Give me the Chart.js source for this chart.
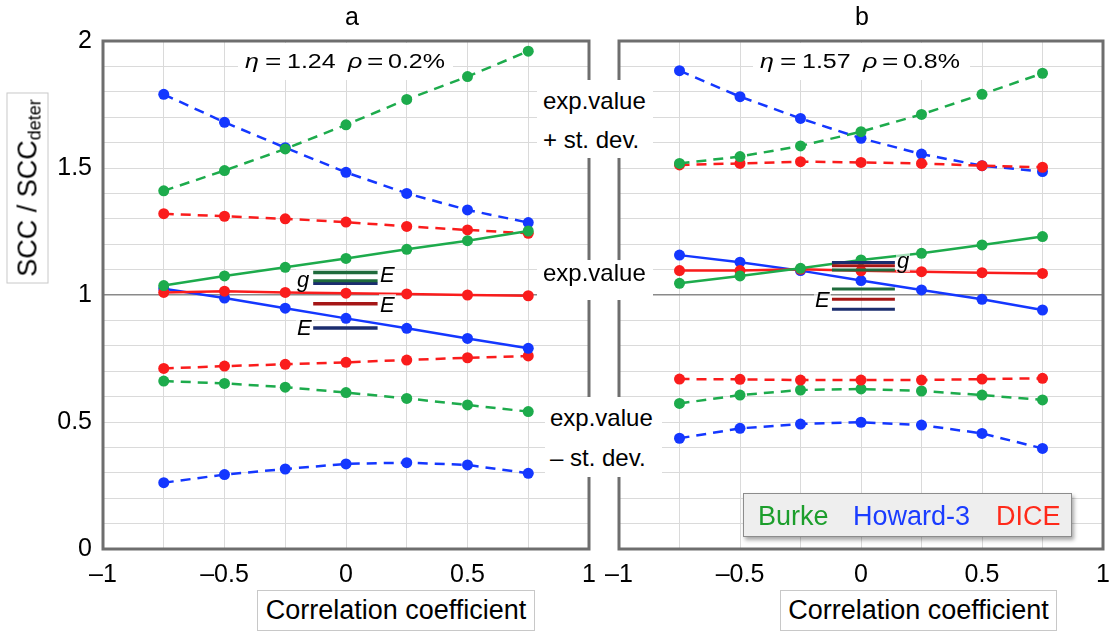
<!DOCTYPE html>
<html>
<head>
<meta charset="utf-8">
<script src="https://cdn.jsdelivr.net/npm/chart.js@4.4.1/dist/chart.umd.min.js"></script>
<style>
  body { margin: 0; background: #fff; font-family: 'Liberation Sans', Arial, sans-serif; }
  #wrap { position: relative; width: 1110px; height: 633px; overflow: hidden; }
  canvas { position: absolute; left: 0; top: 0; }
  .t { position: absolute; white-space: nowrap; color: #000; font-size: 24px; line-height: 24px; }
  .box { position: absolute; background: #fff; }
  .eq { position: absolute; white-space: nowrap; font-size: 25px; line-height: 25px; top: 47px;
        transform: scaleY(0.82); transform-origin: 0 21px; }
  .lab { position: absolute; font-style: italic; font-size: 22px; line-height: 22px; background: rgba(255,255,255,0.6); padding: 0 1px; }
  .ttl { position: absolute; box-sizing: border-box; border: 1px solid #c8c8c8; background: #fff;
         font-size: 27px; line-height: 27px; text-align: center; white-space: nowrap; }
</style>
</head>
<body>
<div id="wrap">
  <canvas id="chartA" width="1110" height="633"></canvas>
  <canvas id="chartB" width="1140" height="633"></canvas>

  <div class="t" style="left:352px;top:4px;font-size:25px;transform:translateX(-50%)">a</div>
  <div class="t" style="left:862px;top:4px;font-size:25px;transform:translateX(-50%)">b</div>

  <div class="box" style="left:238px;top:43px;width:215px;height:37px"></div>
  <div class="eq" style="left:245px"><i>η</i></div>
  <div class="eq" style="left:265px;font-size:28px">=</div>
  <div class="eq" style="left:287px">1.24</div>
  <div class="eq" style="left:348px"><i>ρ</i></div>
  <div class="eq" style="left:367px;font-size:28px">=</div>
  <div class="eq" style="left:388px">0.2%</div>

  <div class="box" style="left:753px;top:43px;width:217px;height:37px"></div>
  <div class="eq" style="left:760px"><i>η</i></div>
  <div class="eq" style="left:780px;font-size:28px">=</div>
  <div class="eq" style="left:802px">1.57</div>
  <div class="eq" style="left:863px"><i>ρ</i></div>
  <div class="eq" style="left:882px;font-size:28px">=</div>
  <div class="eq" style="left:903px">0.8%</div>

  <div class="box" style="left:537px;top:80px;width:116px;height:78px"></div>
  <div class="t" style="left:543px;top:89px">exp.value</div>
  <div class="t" style="left:543px;top:128px">+ st. dev.</div>

  <div class="box" style="left:537px;top:260px;width:116px;height:40px"></div>
  <div class="t" style="left:543px;top:261px">exp.value</div>

  <div class="box" style="left:545px;top:397px;width:117px;height:80px"></div>
  <div class="t" style="left:550px;top:406px">exp.value</div>
  <div class="t" style="left:550px;top:446px">– st. dev.</div>

  <div class="lab" style="left:379px;top:264px">E</div>
  <div class="lab" style="left:296px;top:269px">g</div>
  <div class="lab" style="left:379px;top:294px">E</div>
  <div class="lab" style="left:296px;top:317px">E</div>
  <div class="lab" style="left:896px;top:250px">g</div>
  <div class="lab" style="left:814px;top:289px">E</div>

  <div class="ttl" style="left:-68px;top:167px;width:191px;height:42px;transform:rotate(-90deg);padding-top:7px">SCC / SCC<span style="font-size:18px;position:relative;top:4px">deter</span></div>
  <div class="ttl" style="left:257px;top:590px;width:278px;height:41px;padding-top:6px">Correlation coefficient</div>
  <div class="ttl" style="left:780px;top:590px;width:277px;height:41px;padding-top:6px">Correlation coefficient</div>

  <div style="position:absolute;left:743px;top:493px;width:329px;height:44px;box-sizing:border-box;background:#eeeeee;border:1px solid #8c8c8c;box-shadow:2px 3px 4px rgba(0,0,0,0.35)"></div>
  <div class="t" style="left:758px;top:503px;font-size:27px;line-height:27px;color:#1c9e2c">Burke</div>
  <div class="t" style="left:853px;top:503px;font-size:27px;line-height:27px;color:#1a3cff">Howard-3</div>
  <div class="t" style="left:996px;top:503px;font-size:27px;line-height:27px;color:#ff2a1a">DICE</div>
</div>
<script>
// correlation coefficient
var xVals = [-0.75, -0.5, -0.25, 0, 0.25, 0.5, 0.75];

// panel a: eta = 1.24, rho = 0.2%
var aBurkeHi  = [1.41, 1.49, 1.575, 1.67, 1.77, 1.86, 1.96];
var aHowardHi = [1.79, 1.68, 1.58, 1.483, 1.40, 1.335, 1.285];
var aDiceHi   = [1.32, 1.31, 1.30, 1.287, 1.27, 1.256, 1.243];
var aBurke    = [1.037, 1.075, 1.109, 1.144, 1.18, 1.214, 1.252];
var aHoward   = [1.025, 0.988, 0.948, 0.908, 0.869, 0.829, 0.79];
var aDice     = [1.01, 1.015, 1.01, 1.007, 1.004, 1.0, 0.997];
var aDiceLo   = [0.711, 0.72, 0.727, 0.735, 0.744, 0.753, 0.76];
var aBurkeLo  = [0.661, 0.652, 0.637, 0.616, 0.593, 0.567, 0.541];
var aHowardLo = [0.261, 0.293, 0.315, 0.335, 0.34, 0.331, 0.298];

// panel b: eta = 1.57, rho = 0.8%
var bBurkeHi  = [1.518, 1.545, 1.587, 1.643, 1.711, 1.79, 1.873];
var bHowardHi = [1.883, 1.781, 1.695, 1.617, 1.555, 1.509, 1.486];
var bDiceHi   = [1.512, 1.518, 1.525, 1.522, 1.518, 1.509, 1.503];
var bBurke    = [1.046, 1.075, 1.105, 1.138, 1.164, 1.197, 1.23];
var bHoward   = [1.157, 1.129, 1.096, 1.057, 1.02, 0.983, 0.941];
var bDice     = [1.096, 1.096, 1.101, 1.095, 1.092, 1.088, 1.085];
var bDiceLo   = [0.669, 0.668, 0.665, 0.665, 0.665, 0.669, 0.672];
var bBurkeLo  = [0.573, 0.606, 0.626, 0.63, 0.622, 0.606, 0.587];
var bHowardLo = [0.436, 0.475, 0.492, 0.499, 0.488, 0.455, 0.396];

// short g / E marks (Burke, Howard-3, DICE)
var aMarkX = [-0.135, 0.13];
var aMarkG = [1.056, 1.045];          // Burke, Howard-3
var aMarkE = [1.089, 0.870, 0.966];   // Burke, Howard-3, DICE
var bMarkX = [-0.12, 0.14];
var bMarkG = [1.098, 1.128, 1.115];
var bMarkE = [1.024, 0.944, 0.983];

var green = '#1dab4c', blue = '#1437ff', red = '#fa1c1c';
var dkGreen = '#1f6b3c', dkBlue = '#1b2d6e', dkRed = '#a51616';
var FONT = "'Liberation Sans', Arial, sans-serif";

function pts(ys) {
  return ys.map(function (y, k) { return { x: xVals[k], y: y }; });
}

function serie(ys, color, dashed) {
  return {
    data: pts(ys), borderColor: color, backgroundColor: color, borderWidth: 2.5,
    borderDash: dashed ? [10, 7] : [], pointRadius: 5.5, pointHoverRadius: 5.5,
    pointBorderWidth: 0, tension: 0
  };
}

function mark(xs, y, color, w) {
  return {
    data: [{ x: xs[0], y: y }, { x: xs[1], y: y }], borderColor: color,
    borderWidth: w, pointRadius: 0, tension: 0
  };
}

var framePlugin = {
  id: 'frame',
  beforeDatasetsDraw: function (chart) {
    var a = chart.chartArea, c = chart.ctx;
    c.save();
    c.strokeStyle = '#6e6e6e';
    c.lineWidth = 3;
    c.strokeRect(a.left, a.top, a.right - a.left, a.bottom - a.top);
    c.restore();
  }
};

function half(v) { return Math.abs(v * 2 - Math.round(v * 2)) < 1e-6; }

function makeChart(id, sets, padLeft, padRight, yLabels) {
  return new Chart(document.getElementById(id), {
    type: 'line',
    data: { datasets: sets },
    options: {
      responsive: false, animation: false, devicePixelRatio: 1,
      layout: { padding: { left: padLeft, right: padRight, top: 41, bottom: 34 } },
      plugins: { legend: { display: false }, tooltip: { enabled: false } },
      scales: {
        x: {
          type: 'linear', min: -1, max: 1,
          ticks: {
            stepSize: 0.25, autoSkip: false, maxRotation: 0, padding: 11, color: '#000',
            font: { size: 25, family: FONT },
            callback: function (v) {
              if (!half(v)) return '';
              var r = Math.round(v * 10) / 10;
              return r < 0 ? '–' + (-r) : String(r);
            }
          },
          grid: { color: '#dadada', lineWidth: 1, drawTicks: false },
          border: { display: false },
          afterFit: function (s) { s.height = 50; }
        },
        y: {
          min: 0, max: 2,
          ticks: {
            stepSize: 0.1, autoSkip: false, padding: 11, color: '#000',
            font: { size: 25, family: FONT },
            callback: function (v) { return yLabels && half(v) ? String(Math.round(v * 10) / 10) : ''; }
          },
          grid: {
            drawTicks: false,
            color: function (ctx) { return Math.abs(ctx.tick.value - 1) < 1e-6 ? '#8a8a8a' : '#dadada'; },
            lineWidth: function (ctx) { return Math.abs(ctx.tick.value - 1) < 1e-6 ? 1.5 : 1; }
          },
          border: { display: false },
          afterFit: function (s) { s.width = 60; }
        }
      }
    },
    plugins: [framePlugin]
  });
}

var setsA = [
  mark(aMarkX, aMarkE[0], dkGreen, 3.5),
  mark(aMarkX, aMarkG[0], dkGreen, 3),
  mark(aMarkX, aMarkG[1], dkBlue, 3),
  mark(aMarkX, aMarkE[2], dkRed, 3.5),
  mark(aMarkX, aMarkE[1], dkBlue, 3.5),
  serie(aBurke, green, false),
  serie(aDice, red, false),
  serie(aHoward, blue, false),
  serie(aBurkeHi, green, true),
  serie(aHowardHi, blue, true),
  serie(aDiceHi, red, true),
  serie(aDiceLo, red, true),
  serie(aBurkeLo, green, true),
  serie(aHowardLo, blue, true)
];

var setsB = [
  mark(bMarkX, bMarkG[1], dkBlue, 3),
  mark(bMarkX, bMarkG[2], dkRed, 3),
  mark(bMarkX, bMarkG[0], dkGreen, 3),
  mark(bMarkX, bMarkE[0], dkGreen, 3),
  mark(bMarkX, bMarkE[2], dkRed, 3),
  mark(bMarkX, bMarkE[1], dkBlue, 3),
  serie(bBurke, green, false),
  serie(bDice, red, false),
  serie(bHoward, blue, false),
  serie(bBurkeHi, green, true),
  serie(bDiceHi, red, true),
  serie(bHowardHi, blue, true),
  serie(bDiceLo, red, true),
  serie(bBurkeLo, green, true),
  serie(bHowardLo, blue, true)
];

makeChart('chartA', setsA, 43, 521, true);
makeChart('chartB', setsB, 559, 37, false);
</script>
</body>
</html>
